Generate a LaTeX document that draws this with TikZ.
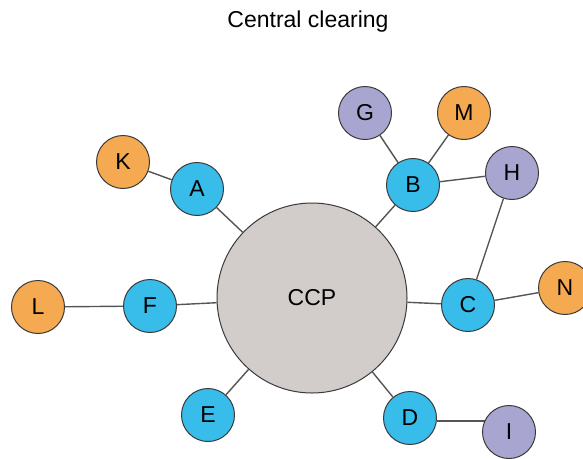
\documentclass[tikz,border=0pt]{standalone}
\usepackage{fontspec}
\setmainfont{Liberation Sans}
\usetikzlibrary{backgrounds}
\definecolor{cblue}{HTML}{38BDEA}
\definecolor{corange}{HTML}{F5AA52}
\definecolor{cpurple}{HTML}{A8A6D0}
\definecolor{cgray}{HTML}{D2CCCA}
\definecolor{cedge}{HTML}{555555}
\definecolor{cborder}{HTML}{3A3A3A}
\tikzset{
  party/.style={circle, draw=cborder, line width=1pt, minimum size=53pt, inner sep=0pt, font=\fontsize{23}{26}\selectfont},
  bluenode/.style={party, fill=cblue},
  orangenode/.style={party, fill=corange},
  purplenode/.style={party, fill=cpurple},
  ccpnode/.style={circle, draw=cborder, line width=1pt, fill=cgray, minimum size=190pt, inner sep=0pt, font=\fontsize{23}{26}\selectfont},
  link/.style={draw=cedge, line width=1.4pt},
}
\begin{document}
\begin{tikzpicture}[x=1pt,y=-1pt]
\useasboundingbox (0,0) rectangle (583,458);
\node[font=\fontsize{23}{26}\selectfont] (title) at (308,22) {Central clearing};
\node[ccpnode] (CCP) at (312,298) {CCP};
\node[bluenode] (A) at (197,189) {A};
\node[orangenode] (K) at (123,162) {K};
\node[bluenode] (F) at (150,306) {F};
\node[orangenode] (L) at (38,307) {L};
\node[bluenode] (E) at (208,415) {E};
\node[bluenode] (B) at (413,185) {B};
\node[purplenode] (G) at (365,113) {G};
\node[orangenode] (M) at (464,113) {M};
\node[purplenode] (H) at (512,173) {H};
\node[bluenode] (C) at (468,305) {C};
\node[orangenode] (N) at (565,288) {N};
\node[bluenode] (D) at (410,418) {D};
\node[purplenode] (I) at (509,432) {I};
\begin{scope}[on background layer]
\draw[link] (K) -- (A);
\draw[link] (A) -- (CCP);
\draw[link] (L) -- (F);
\draw[link] (F) -- (CCP);
\draw[link] (E) -- (CCP);
\draw[link] (G) -- (B);
\draw[link] (M) -- (B);
\draw[link] (B) -- (H);
\draw[link] (B) -- (CCP);
\draw[link] (H) -- (C);
\draw[link] (C) -- (CCP);
\draw[link] (C) -- (N);
\draw[link] (D) -- (CCP);
\draw[link] ([yshift=-3pt]D.east) -- ([yshift=-3pt]D.east -| I.center);
\end{scope}
\end{tikzpicture}
\end{document}
